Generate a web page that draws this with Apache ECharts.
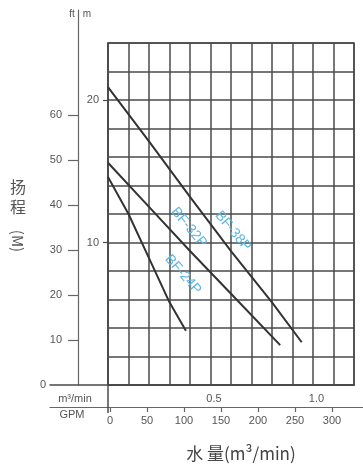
<!DOCTYPE html>
<html><head><meta charset="utf-8">
<script src="https://cdn.jsdelivr.net/npm/echarts@6/dist/echarts.min.js"></script>
<style>html,body{margin:0;padding:0;background:#fff}#c{width:363px;height:466px}</style>
</head><body><div id="c"></div>
<script>
// ---- data ----
const seriesNames = ['BF-38P', 'BF-32P', 'BF-24P'];
const bf38p = [[0, 20.9], [0.2, 17.1], [0.4, 13.2], [0.6, 9.4], [0.8, 5.8], [0.945, 3.0]];
const bf32p = [[0, 15.6], [0.2, 12.5], [0.4, 9.4], [0.6, 6.4], [0.84, 2.8]];
const bf24p = [[0, 14.6], [0.1, 12.0], [0.2, 8.9], [0.3, 5.8], [0.38, 3.8]];
const headMLabels = [10, 20];
const headFtLabels = [10, 20, 30, 40, 50, 60];
const flowLabels = [0.5, 1.0];
const gpmLabels = [0, 50, 100, 150, 200, 250, 300];
const labelAnchors = [[0.61, 10.8], [0.395, 11.05], [0.366, 7.75]];
const labelAngles = [50, 50, 49];

const TXT = '#555';
const GRID = '#4a4a4a';
const GW = 1.5;
const FONT = '"Liberation Sans", "DejaVu Sans", sans-serif';
const chart = echarts.init(document.getElementById('c'), null, {renderer: 'canvas'});

const noAxis = {axisLine: {show: false}, axisTick: {show: false}, axisLabel: {show: false}, splitLine: {show: false}};

chart.setOption({
  animation: false,
  grid: [
    {left: 108, top: 43, width: 246, height: 342, show: true, borderColor: GRID, borderWidth: GW, outerBoundsMode: 'none', containLabel: false},
    {left: 50, top: 10, right: 9, height: 375, outerBoundsMode: 'none', containLabel: false},
    {left: 50, right: 0, top: 300, bottom: 59, outerBoundsMode: 'none', containLabel: false}
  ],
  xAxis: [
    Object.assign({type: 'value', gridIndex: 0, min: 0, max: 1.2, interval: 0.1}, noAxis,
      {splitLine: {show: true, lineStyle: {color: GRID, width: GW}}}),
    {type: 'value', gridIndex: 0, min: 0, max: 1.2, position: 'bottom',
      axisLine: {show: true, lineStyle: {color: GRID, width: GW}},
      axisTick: {show: true, customValues: [0], length: 28, lineStyle: {color: GRID, width: GW}},
      axisLabel: {show: true, customValues: flowLabels, formatter: v => v.toFixed(1), margin: 8, color: TXT, fontSize: 11, fontFamily: FONT, padding: [0, 0, 0, 7]},
      splitLine: {show: false}},
    {type: 'value', gridIndex: 1, min: 0, max: 1, position: 'bottom',
      axisLine: {show: true, lineStyle: {color: GRID, width: GW}},
      axisTick: {show: false}, axisLabel: {show: false}, splitLine: {show: false},
      name: '0', nameLocation: 'start', nameGap: 4, nameTextStyle: {color: TXT, fontSize: 11, fontFamily: FONT}},
    {type: 'value', gridIndex: 2, min: -81.1, max: 341.9, position: 'bottom',
      axisLine: {show: true, lineStyle: {color: '#666', width: 1.2}},
      axisTick: {show: true, customValues: gpmLabels, length: 5, lineStyle: {color: '#666', width: 1.2}},
      axisLabel: {show: true, customValues: gpmLabels, margin: 8, color: TXT, fontSize: 11, fontFamily: FONT},
      splitLine: {show: false}}
  ],
  yAxis: [
    Object.assign({type: 'value', gridIndex: 0, min: 0, max: 24, interval: 2}, noAxis,
      {splitLine: {show: true, lineStyle: {color: GRID, width: GW}}}),
    {type: 'value', gridIndex: 0, min: 0, max: 24, position: 'left',
      axisLine: {show: true, lineStyle: {color: GRID, width: GW}},
      axisTick: {show: true, customValues: headMLabels, length: 5, lineStyle: {color: GRID, width: 1.2}},
      axisLabel: {show: true, customValues: headMLabels, margin: 9, color: TXT, fontSize: 11, fontFamily: FONT},
      splitLine: {show: false}},
    {type: 'value', gridIndex: 1, min: 0, max: 83.33, position: 'left', offset: -28,
      axisLine: {show: true, lineStyle: {color: '#666', width: 1.2}},
      axisTick: {show: true, customValues: headFtLabels, length: 10, lineStyle: {color: '#666', width: 1.2}},
      axisLabel: {show: true, customValues: headFtLabels, margin: 16, color: TXT, fontSize: 11, fontFamily: FONT},
      splitLine: {show: false}},
    Object.assign({type: 'value', gridIndex: 2, min: 0, max: 1, show: false}, noAxis)
  ],
  series: [bf38p, bf32p, bf24p].map((d, i) => ({
    type: 'line', name: seriesNames[i], xAxisIndex: 0, yAxisIndex: 0, data: d,
    showSymbol: false, symbol: 'none', smooth: false,
    lineStyle: {color: '#333', width: 2}
  }))
});

const g = [];
labelAnchors.forEach((a, i) => {
  const p = chart.convertToPixel({xAxisIndex: 0, yAxisIndex: 0}, a);
  g.push({type: 'text', x: p[0], y: p[1], rotation: -labelAngles[i] * Math.PI / 180, z: 100,
    style: {text: seriesNames[i], fill: '#5db6de', font: '14px ' + FONT, align: 'center', verticalAlign: 'middle'}});
});
g.push(
  {type: 'text', x: 72, y: 14, style: {text: 'ft', fill: TXT, font: '10px ' + FONT, align: 'center', verticalAlign: 'middle'}},
  {type: 'text', x: 87, y: 14, style: {text: 'm', fill: TXT, font: '10px ' + FONT, align: 'center', verticalAlign: 'middle'}},
  {type: 'text', x: 75, y: 399, style: {text: 'm³/min', fill: TXT, font: '11px ' + FONT, align: 'center', verticalAlign: 'middle'}},
  {type: 'text', x: 72, y: 415, style: {text: 'GPM', fill: TXT, font: '11px ' + FONT, align: 'center', verticalAlign: 'middle'}},
  {type: 'text', x: 241, y: 454, style: {text: '水 量(m³/min)', fill: '#444', font: '17px "Noto Sans CJK SC", sans-serif', align: 'center', verticalAlign: 'middle'}},
  {type: 'text', x: 18, y: 187, style: {text: '扬', fill: TXT, font: '16px "Noto Sans CJK SC", sans-serif', align: 'center', verticalAlign: 'middle'}},
  {type: 'text', x: 18, y: 207, style: {text: '程', fill: TXT, font: '16px "Noto Sans CJK SC", sans-serif', align: 'center', verticalAlign: 'middle'}},
  {type: 'text', x: 18, y: 241, rotation: -Math.PI / 2, style: {text: '(M)', fill: TXT, font: '15px "Noto Sans CJK SC", sans-serif', align: 'center', verticalAlign: 'middle'}}
);
chart.setOption({graphic: g});
</script>
</body></html>
